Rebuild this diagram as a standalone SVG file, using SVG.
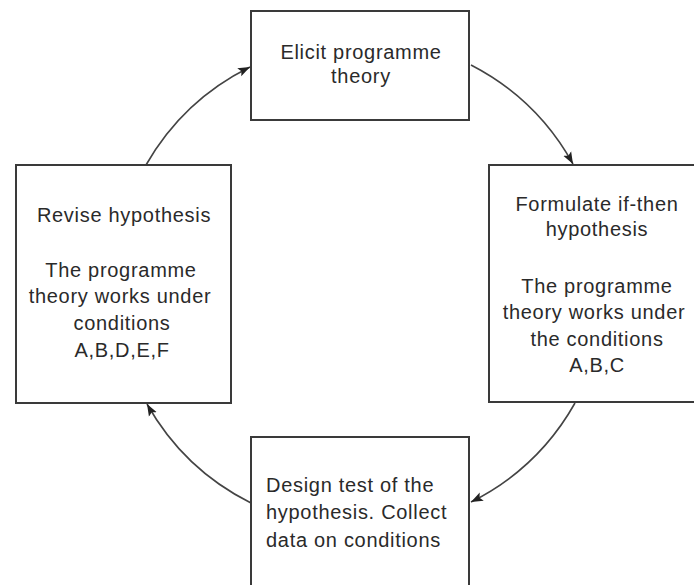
<svg xmlns="http://www.w3.org/2000/svg" width="694" height="585" viewBox="0 0 694 585">
  <style>
    .box { fill: #ffffff; stroke: #3a3a3a; stroke-width: 2; }
    .lbl { font-family: "Liberation Sans", Arial, Helvetica, sans-serif; font-size: 20px; letter-spacing: 0.7px; fill: #2a2a2a; text-anchor: middle; }
    .left { text-anchor: start; }
    .conn { fill: none; stroke: #444444; stroke-width: 1.6; marker-end: url(#arrow); }
  </style>
  <defs>
    <marker id="arrow" markerUnits="userSpaceOnUse" markerWidth="14" markerHeight="10" refX="12" refY="5" orient="auto">
      <path d="M0,0.5 L12,5 L0,9.5 L2.5,5 z" fill="#222222"/>
    </marker>
  </defs>
  <rect x="0" y="0" width="694" height="585" fill="#ffffff"/>

  <g id="connectors">
    <path class="conn" d="M146,165 A245,245 0 0 1 250,67"/>
    <path class="conn" d="M471,65 A245,245 0 0 1 573,164"/>
    <path class="conn" d="M575,403 A245,245 0 0 1 471,502"/>
    <path class="conn" d="M251,503 A245,245 0 0 1 147,404"/>
  </g>

  <g id="elicit">
    <rect class="box" x="251" y="11" width="218" height="109"/>
    <text class="lbl" x="361" y="59">Elicit programme</text>
    <text class="lbl" x="361" y="83">theory</text>
  </g>

  <g id="formulate">
    <rect class="box" x="489" y="165" width="216" height="237"/>
    <text class="lbl" x="597" y="211">Formulate if-then</text>
    <text class="lbl" x="597" y="236">hypothesis</text>
    <text class="lbl" x="597" y="293">The programme</text>
    <text class="lbl" x="594" y="319">theory works under</text>
    <text class="lbl" x="597" y="346">the conditions</text>
    <text class="lbl" x="597" y="372">A,B,C</text>
  </g>

  <g id="design">
    <rect class="box" x="251" y="437" width="218" height="170"/>
    <text class="lbl left" x="266" y="492">Design test of the</text>
    <text class="lbl left" x="266" y="519">hypothesis. Collect</text>
    <text class="lbl left" x="266" y="547">data on conditions</text>
  </g>

  <g id="revise">
    <rect class="box" x="16" y="165" width="215" height="238"/>
    <text class="lbl" x="124" y="222">Revise hypothesis</text>
    <text class="lbl" x="121" y="277">The programme</text>
    <text class="lbl" x="120" y="303">theory works under</text>
    <text class="lbl" x="122" y="330">conditions</text>
    <text class="lbl" x="122" y="357">A,B,D,E,F</text>
  </g>
</svg>
